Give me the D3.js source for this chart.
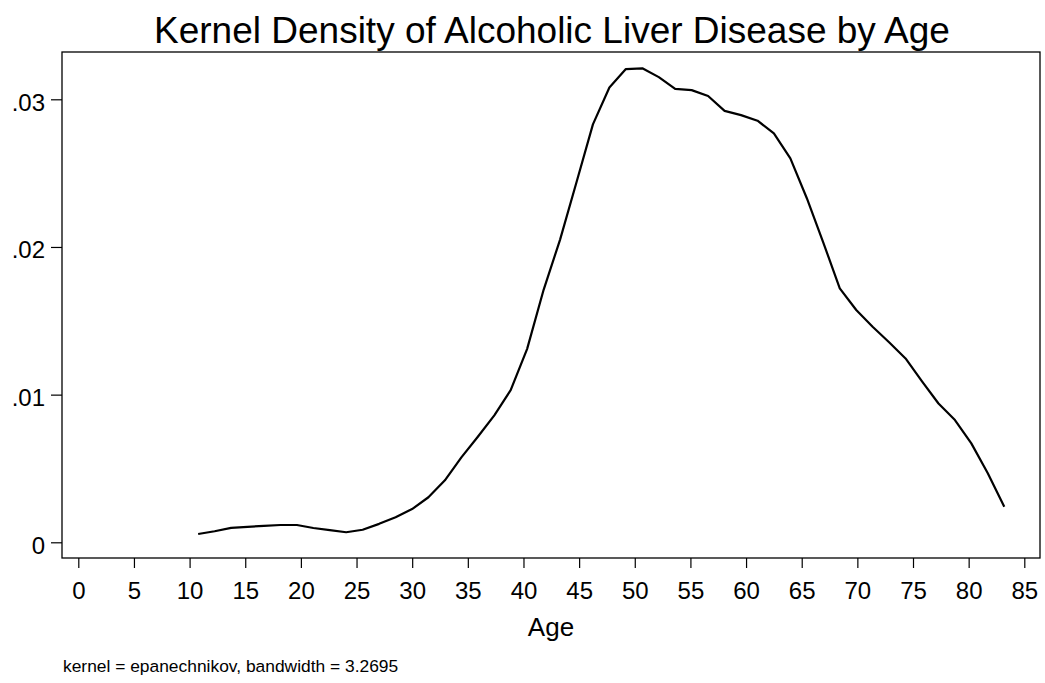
<!DOCTYPE html>
<html>
<head>
<meta charset="utf-8">
<script src="https://cdn.jsdelivr.net/npm/d3@7"></script>
<style>
  body { margin: 0; background: #fff; }
  svg text { font-family: "Liberation Sans", Arial, sans-serif; fill: #000; }
</style>
</head>
<body>
<svg id="chart" width="1045" height="683"></svg>
<script>
// evaluation points (age) and estimated density
var ages = [10.77, 12.25, 13.73, 15.20, 16.68, 18.16, 19.64, 21.12, 22.60, 24.07,
  25.55, 27.03, 28.51, 29.99, 31.46, 32.94, 34.42, 35.90, 37.38, 38.85,
  40.33, 41.81, 43.29, 44.77, 46.24, 47.72, 49.20, 50.68, 52.16, 53.63,
  55.11, 56.59, 58.07, 59.55, 61.03, 62.50, 63.98, 65.46, 66.94, 68.42,
  69.90, 71.37, 72.85, 74.33, 75.81, 77.29, 78.77, 80.24, 81.72, 83.20];
var density = [0.00056, 0.00075, 0.00098, 0.00105, 0.00111, 0.00117, 0.00117, 0.00097, 0.00082, 0.00068,
  0.00085, 0.00125, 0.00170, 0.00225, 0.00305, 0.00420, 0.00575, 0.00715, 0.00860, 0.01030,
  0.01310, 0.01710, 0.02050, 0.02440, 0.02830, 0.03080, 0.03205, 0.03210, 0.03150, 0.03070,
  0.03062, 0.03022, 0.02922, 0.02893, 0.02855, 0.02769, 0.02600, 0.02330, 0.02030, 0.01720,
  0.01573, 0.01460, 0.01355, 0.01245, 0.01090, 0.00940, 0.00828, 0.00670, 0.00467, 0.00241];
var xTicks = [0, 5, 10, 15, 20, 25, 30, 35, 40, 45, 50, 55, 60, 65, 70, 75, 80, 85];
var yTicks = [0, 0.01, 0.02, 0.03];
var yTickLabels = ["0", ".01", ".02", ".03"];

var svg = d3.select('#chart');
var box = { left: 62, right: 1040, top: 52, bottom: 558 };

var x = d3.scaleLinear().domain([0, 85]).range([78.3, 1024.3]);
var y = d3.scaleLinear().domain([0, 0.03]).range([542.3, 99.3]);

// title
svg.append('text')
  .attr('x', 552).attr('y', 43)
  .attr('text-anchor', 'middle')
  .style('font-size', '37px')
  .text('Kernel Density of Alcoholic Liver Disease by Age');

// plot frame
svg.append('rect')
  .attr('x', box.left).attr('y', box.top)
  .attr('width', box.right - box.left).attr('height', box.bottom - box.top)
  .attr('fill', 'none').attr('stroke', '#000').attr('stroke-width', 1.3);

// x axis
var xAxis = d3.axisBottom(x).tickValues(xTicks).tickSize(10).tickFormat(d3.format('d'));
var gx = svg.append('g').attr('transform', 'translate(0,' + box.bottom + ')').call(xAxis);
gx.select('.domain').remove();
gx.selectAll('.tick line').attr('stroke', '#000').attr('stroke-width', 1.2);
gx.selectAll('.tick text').style('font-size', '24px').attr('font-family', null)
  .attr('y', 41).attr('dy', null);

// y axis
var yAxis = d3.axisLeft(y).tickValues(yTicks).tickSize(11).tickPadding(6)
  .tickFormat(function(d, i) { return yTickLabels[i]; });
var gy = svg.append('g').attr('transform', 'translate(' + box.left + ',0)').call(yAxis);
gy.select('.domain').remove();
gy.selectAll('.tick line').attr('stroke', '#000').attr('stroke-width', 1.2);
gy.selectAll('.tick text').style('font-size', '24px').attr('font-family', null)
  .attr('dy', 11);

// axis title
svg.append('text')
  .attr('x', 551).attr('y', 636)
  .attr('text-anchor', 'middle')
  .style('font-size', '26px')
  .text('Age');

// note
svg.append('text')
  .attr('x', 63).attr('y', 672)
  .style('font-size', '17.4px')
  .text('kernel = epanechnikov, bandwidth = 3.2695');

// density curve
var pts = ages.map(function(a, i) { return [a, density[i]]; });
var line = d3.line()
  .x(function(d) { return x(d[0]); })
  .y(function(d) { return y(d[1]); });
svg.append('path')
  .datum(pts)
  .attr('d', line)
  .attr('fill', 'none')
  .attr('stroke', '#000')
  .attr('stroke-width', 2.2)
  .attr('stroke-linejoin', 'round');
</script>
</body>
</html>
